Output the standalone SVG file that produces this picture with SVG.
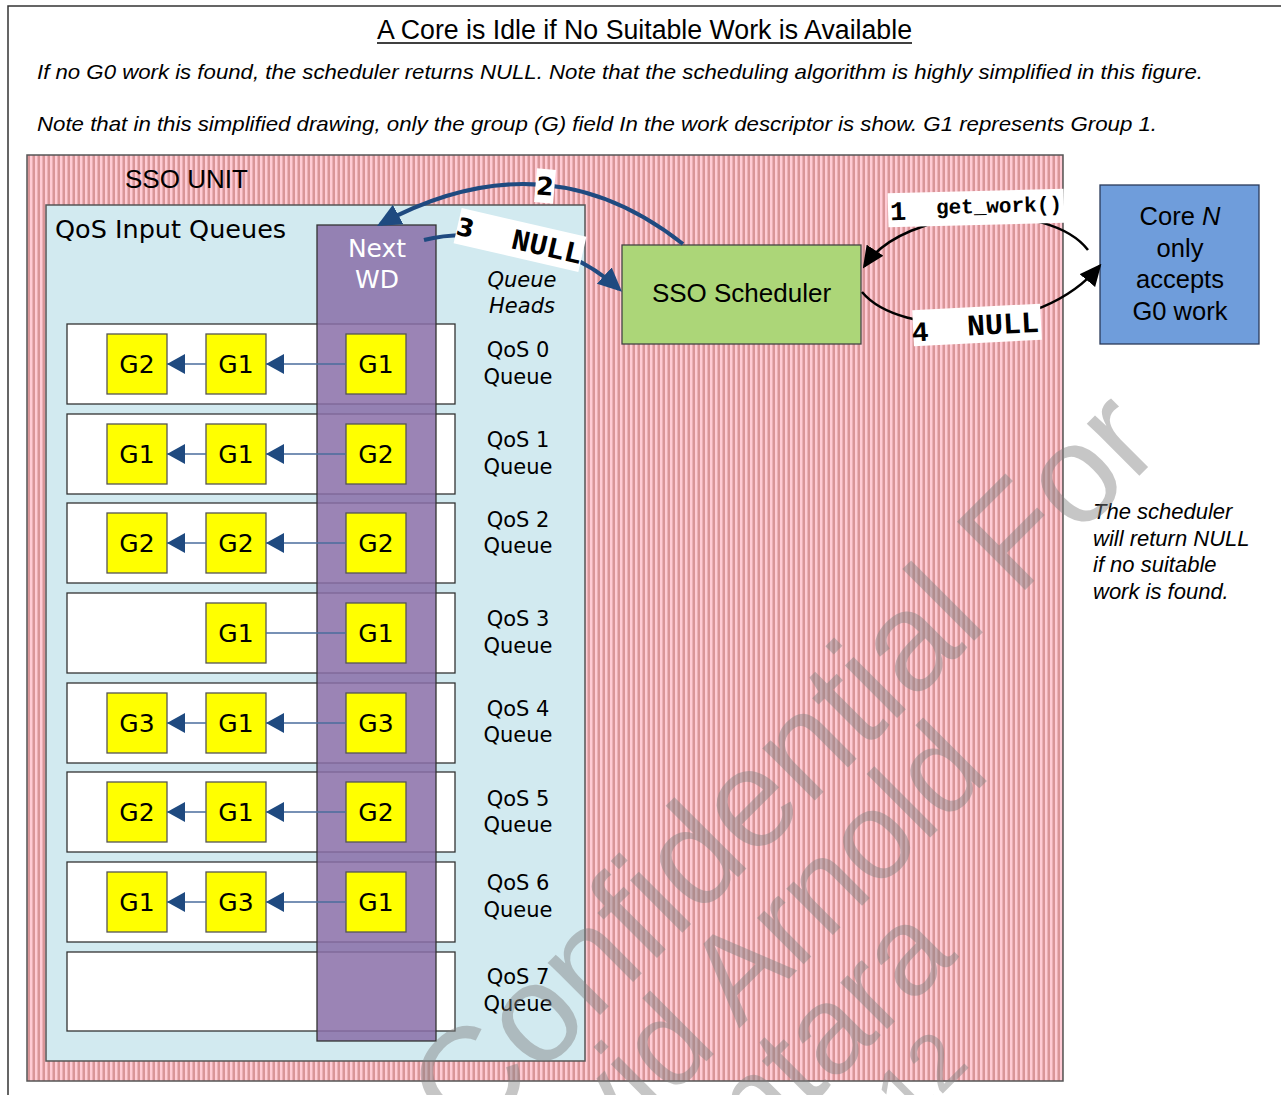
<svg xmlns="http://www.w3.org/2000/svg" width="1281" height="1095" viewBox="0 0 1281 1095">
<defs>
<style>
.sans{font-family:"Liberation Sans",Arial,sans-serif}
.dv{font-family:"DejaVu Sans",Verdana,sans-serif}
.mono{font-family:"Liberation Mono","Courier New",monospace;font-weight:bold}
.wd{fill:#ffff00;stroke:#555;stroke-width:1.3}
.g{font-family:"DejaVu Sans",Verdana,sans-serif;font-size:25px;text-anchor:middle;fill:#000}
.q{fill:#fff;stroke:#333;stroke-width:1.3}
.ql{font-family:"DejaVu Sans",Verdana,sans-serif;font-size:21px;text-anchor:middle;fill:#000}
.link{stroke:#4a6d9d;stroke-width:1.3;fill:none}
.lbl{fill:#fff}
.num{font-family:"DejaVu Sans",Verdana,sans-serif;font-weight:bold;font-size:25px;text-anchor:middle}
</style>
<pattern id="stripes" width="5" height="10" patternUnits="userSpaceOnUse">
<rect width="5" height="10" fill="#ffcbd5"/>
<rect x="2" width="1" height="10" fill="#eab0b5"/>
<rect x="3" width="2" height="10" fill="#d99598"/>
</pattern>
<marker id="ahSmall" markerUnits="userSpaceOnUse" markerWidth="18" markerHeight="20" refX="18" refY="10" orient="auto"><path d="M0,0 L18,10 L0,20 z" fill="#1f4a80"/></marker>
<marker id="ahBlue" markerUnits="userSpaceOnUse" markerWidth="24" markerHeight="22" refX="20" refY="11" orient="auto"><path d="M0,0 L24,11 L0,22 z" fill="#1f4a80"/></marker>
<marker id="ahBlack" markerUnits="userSpaceOnUse" markerWidth="22" markerHeight="20" refX="19" refY="10" orient="auto"><path d="M0,0 L22,10 L0,20 z" fill="#000"/></marker>
</defs>
<rect width="1281" height="1095" fill="#fff"/>
<path d="M8,1095 V6 H1281" fill="none" stroke="#333" stroke-width="1.5"/>
<g id="title">
<text class="sans" x="644.5" y="39" font-size="27" text-anchor="middle" textLength="535" lengthAdjust="spacingAndGlyphs">A Core is Idle if No Suitable Work is Available</text>
<line x1="377" y1="43" x2="912" y2="43" stroke="#000" stroke-width="1.5"/>
<text class="sans" x="37" y="79" font-size="21" font-style="italic" textLength="1166" lengthAdjust="spacingAndGlyphs">If no G0 work is found, the scheduler returns NULL.  Note that the scheduling algorithm is highly simplified in this figure.</text>
<text class="sans" x="37" y="131" font-size="21" font-style="italic" textLength="1120" lengthAdjust="spacingAndGlyphs">Note that in this simplified drawing, only the group (G) field In the work descriptor is show.  G1 represents Group 1.</text>
</g>
<g id="sso-unit">
<rect x="27" y="155" width="1036" height="926" fill="url(#stripes)" stroke="#555" stroke-width="1.5"/>
<text class="sans" x="125" y="188" font-size="26">SSO UNIT</text>
</g>
<g id="qos-input-queues">
<rect x="46" y="205" width="539" height="856" fill="#d2eaf0" stroke="#555" stroke-width="1.5"/>
<text class="dv" x="55" y="238" font-size="25.5">QoS Input Queues</text>
<text class="dv" x="522" y="287" font-size="21" font-style="italic" text-anchor="middle">Queue</text>
<text class="dv" x="522" y="313" font-size="21" font-style="italic" text-anchor="middle">Heads</text>
</g>
<g id="queues">
<rect class="q" x="67" y="324" width="388" height="80"/>
<rect class="q" x="67" y="414" width="388" height="80"/>
<rect class="q" x="67" y="503" width="388" height="80"/>
<rect class="q" x="67" y="593" width="388" height="80"/>
<rect class="q" x="67" y="683" width="388" height="80"/>
<rect class="q" x="67" y="772" width="388" height="80"/>
<rect class="q" x="67" y="862" width="388" height="80"/>
<rect class="q" x="67" y="952" width="388" height="79"/>
</g>
<g id="next-wd">
<rect x="317" y="225" width="119" height="816" fill="#8a6fa8" fill-opacity="0.85" stroke="#333" stroke-width="1.3"/>
<text class="dv" x="377" y="257" font-size="25" fill="#fff" text-anchor="middle">Next</text>
<text class="dv" x="377" y="288" font-size="25" fill="#fff" text-anchor="middle">WD</text>
</g>
<g id="queue-labels">
<text class="ql" x="518" y="357">QoS 0</text><text class="ql" x="518" y="384">Queue</text>
<text class="ql" x="518" y="447">QoS 1</text><text class="ql" x="518" y="474">Queue</text>
<text class="ql" x="518" y="527">QoS 2</text><text class="ql" x="518" y="553">Queue</text>
<text class="ql" x="518" y="626">QoS 3</text><text class="ql" x="518" y="653">Queue</text>
<text class="ql" x="518" y="716">QoS 4</text><text class="ql" x="518" y="742">Queue</text>
<text class="ql" x="518" y="806">QoS 5</text><text class="ql" x="518" y="832">Queue</text>
<text class="ql" x="518" y="890">QoS 6</text><text class="ql" x="518" y="917">Queue</text>
<text class="ql" x="518" y="984">QoS 7</text><text class="ql" x="518" y="1011">Queue</text>
</g>
<g id="wd-row0"><rect class="wd" x="107" y="334" width="60" height="60"/><text class="g" x="137" y="373">G2</text><rect class="wd" x="206" y="334" width="60" height="60"/><text class="g" x="236" y="373">G1</text><rect class="wd" x="346" y="334" width="60" height="60"/><text class="g" x="376" y="373">G1</text></g>
<g id="wd-row1"><rect class="wd" x="107" y="424" width="60" height="60"/><text class="g" x="137" y="463">G1</text><rect class="wd" x="206" y="424" width="60" height="60"/><text class="g" x="236" y="463">G1</text><rect class="wd" x="346" y="424" width="60" height="60"/><text class="g" x="376" y="463">G2</text></g>
<g id="wd-row2"><rect class="wd" x="107" y="513" width="60" height="60"/><text class="g" x="137" y="552">G2</text><rect class="wd" x="206" y="513" width="60" height="60"/><text class="g" x="236" y="552">G2</text><rect class="wd" x="346" y="513" width="60" height="60"/><text class="g" x="376" y="552">G2</text></g>
<g id="wd-row3"><rect class="wd" x="206" y="603" width="60" height="60"/><text class="g" x="236" y="642">G1</text><rect class="wd" x="346" y="603" width="60" height="60"/><text class="g" x="376" y="642">G1</text></g>
<g id="wd-row4"><rect class="wd" x="107" y="693" width="60" height="60"/><text class="g" x="137" y="732">G3</text><rect class="wd" x="206" y="693" width="60" height="60"/><text class="g" x="236" y="732">G1</text><rect class="wd" x="346" y="693" width="60" height="60"/><text class="g" x="376" y="732">G3</text></g>
<g id="wd-row5"><rect class="wd" x="107" y="782" width="60" height="60"/><text class="g" x="137" y="821">G2</text><rect class="wd" x="206" y="782" width="60" height="60"/><text class="g" x="236" y="821">G1</text><rect class="wd" x="346" y="782" width="60" height="60"/><text class="g" x="376" y="821">G2</text></g>
<g id="wd-row6"><rect class="wd" x="107" y="872" width="60" height="60"/><text class="g" x="137" y="911">G1</text><rect class="wd" x="206" y="872" width="60" height="60"/><text class="g" x="236" y="911">G3</text><rect class="wd" x="346" y="872" width="60" height="60"/><text class="g" x="376" y="911">G1</text></g>
<g id="sso-scheduler">
<rect x="622" y="245" width="239" height="99" fill="#acd678" stroke="#444" stroke-width="1.3"/>
<text class="sans" x="741.5" y="302" font-size="26" text-anchor="middle">SSO Scheduler</text>
</g>
<g id="core-n">
<rect x="1100" y="185" width="159" height="159" fill="#6f9ddb" stroke="#2a3a5a" stroke-width="1.3"/>
<text class="sans" font-size="25.5" text-anchor="middle"><tspan x="1180" y="225">Core <tspan font-style="italic">N</tspan></tspan><tspan x="1180" y="257">only</tspan><tspan x="1180" y="288">accepts</tspan><tspan x="1180" y="320">G0 work</tspan></text>
</g>
<g id="note">
<text class="sans" font-size="22" font-style="italic"><tspan x="1093" y="519">The scheduler</tspan><tspan x="1093" y="546">will return NULL</tspan><tspan x="1093" y="572">if no suitable</tspan><tspan x="1093" y="599">work is found.</tspan></text>
</g>
<g id="connectors">
<line class="link" x1="206" y1="364" x2="167" y2="364" marker-end="url(#ahSmall)"/>
<line class="link" x1="346" y1="364" x2="266" y2="364" marker-end="url(#ahSmall)"/>
<line class="link" x1="206" y1="454" x2="167" y2="454" marker-end="url(#ahSmall)"/>
<line class="link" x1="346" y1="454" x2="266" y2="454" marker-end="url(#ahSmall)"/>
<line class="link" x1="206" y1="543" x2="167" y2="543" marker-end="url(#ahSmall)"/>
<line class="link" x1="346" y1="543" x2="266" y2="543" marker-end="url(#ahSmall)"/>
<line class="link" x1="346" y1="633" x2="266" y2="633"/>
<line class="link" x1="206" y1="723" x2="167" y2="723" marker-end="url(#ahSmall)"/>
<line class="link" x1="346" y1="723" x2="266" y2="723" marker-end="url(#ahSmall)"/>
<line class="link" x1="206" y1="812" x2="167" y2="812" marker-end="url(#ahSmall)"/>
<line class="link" x1="346" y1="812" x2="266" y2="812" marker-end="url(#ahSmall)"/>
<line class="link" x1="206" y1="902" x2="167" y2="902" marker-end="url(#ahSmall)"/>
<line class="link" x1="346" y1="902" x2="266" y2="902" marker-end="url(#ahSmall)"/>
<path d="M683,244 Q545,135 380.5,224" fill="none" stroke="#1f4a80" stroke-width="4" marker-end="url(#ahBlue)"/>
<path d="M424,240 C470,228 560,235 619,289" fill="none" stroke="#1f4a80" stroke-width="4" marker-end="url(#ahBlue)"/>
<path d="M1088,250 C1050,200 905,205 864.5,266" fill="none" stroke="#000" stroke-width="2.5" marker-end="url(#ahBlack)"/>
<path d="M862,292 C900,338 1040,338 1099.5,266" fill="none" stroke="#000" stroke-width="2.5" marker-end="url(#ahBlack)"/>
<g transform="translate(545,186) rotate(5)"><rect class="lbl" x="-9.5" y="-17" width="19" height="34"/><text class="num" x="0" y="9">2</text></g>
<g transform="translate(520,240) rotate(13)"><rect class="lbl" x="-64" y="-18" width="128" height="36"/><text class="num" x="-56" y="9">3</text><text class="mono" x="28" y="10" font-size="30" text-anchor="middle">NULL</text></g>
<g transform="translate(976,208) rotate(-1.5)"><rect class="lbl" x="-88" y="-17" width="176" height="34"/><text class="mono" x="-78" y="10" font-size="27" text-anchor="middle">1</text><text class="mono" x="23" y="5" font-size="21" text-anchor="middle">get_work()</text></g>
<g transform="translate(977,325) rotate(-3)"><rect class="lbl" x="-64" y="-18" width="128" height="36"/><text class="mono" x="-57" y="13" font-size="28" text-anchor="middle">4</text><text class="mono" x="26" y="10" font-size="30" text-anchor="middle">NULL</text></g>
</g>
<g id="watermark" transform="rotate(-45)" font-family="Liberation Sans, Arial, sans-serif" font-size="140" fill="#808080" fill-opacity="0.45">
<text x="-482" y="1142">Confidential For</text>
<text x="-391" y="1250" font-size="124">vid Arnold</text>
<text x="-283" y="1355" font-size="125">ntara</text>
<text x="-155" y="1440" font-size="80">12</text>
</g>
</svg>
